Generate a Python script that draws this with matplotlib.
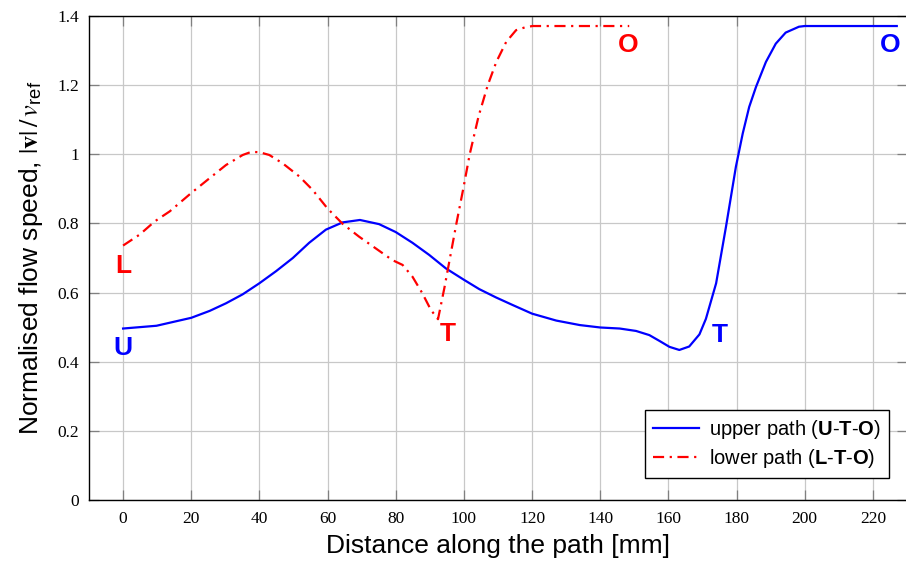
import matplotlib
matplotlib.use('Agg')
import matplotlib.pyplot as plt

# Upper path (U-T-O)
upper_x = [0, 9.8, 20, 25.4, 30.2, 35.1, 40, 44.9, 49.8, 54.6, 59.5, 64.4,
           69.5, 75.1, 80, 84.9, 89.8, 94.7, 100, 104.5, 109.4, 114.3, 120,
           127.1, 134, 140, 145.7, 150.5, 154.4, 157.4, 160.3, 163.2, 166.1,
           169.1, 171, 174, 176.9, 179.8, 181.8, 183.7, 185.7, 188.6, 191.5,
           194.4, 198.3, 200, 227]
upper_y = [0.496, 0.504, 0.527, 0.547, 0.569, 0.595, 0.627, 0.662, 0.700,
           0.744, 0.782, 0.803, 0.810, 0.798, 0.775, 0.744, 0.709, 0.670,
           0.637, 0.610, 0.586, 0.564, 0.539, 0.519, 0.506, 0.499, 0.496,
           0.489, 0.477, 0.460, 0.443, 0.434, 0.444, 0.479, 0.524, 0.627,
           0.791, 0.964, 1.060, 1.137, 1.195, 1.267, 1.320, 1.352, 1.369,
           1.371, 1.371]

# Lower path (L-T-O)
lower_x = [0, 4.9, 9.3, 13.7, 20, 25.4, 30.2, 35.1, 37.6, 40, 42.9, 46.8,
           51.7, 55.6, 60, 64.4, 69.2, 74.1, 79, 82, 84.9, 87.8, 90.3, 92.4,
           94.3, 96, 97.8, 99.8, 101.7, 104.3, 107, 109.5, 112.4, 115.3,
           118.2, 120.2, 148.5]
lower_y = [0.736, 0.768, 0.806, 0.835, 0.888, 0.931, 0.969, 0.998, 1.007,
           1.006, 0.998, 0.974, 0.936, 0.897, 0.843, 0.799, 0.762, 0.728,
           0.694, 0.680, 0.646, 0.598, 0.550, 0.523, 0.615, 0.705, 0.800,
           0.900, 1.000, 1.110, 1.200, 1.267, 1.325, 1.359, 1.368, 1.371,
           1.371]

# point labels: (text, x, baseline y, colour)
point_labels = [('U', 0, 0.418, '#0000ff'), ('T', 175, 0.456, '#0000ff'),
                ('O', 225, 1.296, '#0000ff'), ('L', 0.2, 0.658, '#ff0000'),
                ('T', 95.2, 0.459, '#ff0000'), ('O', 148.1, 1.296, '#ff0000')]

x_ticks = list(range(0, 221, 20))
y_ticks = [0, 0.2, 0.4, 0.6, 0.8, 1, 1.2, 1.4]
y_tick_labels = ['0', '0.2', '0.4', '0.6', '0.8', '1', '1.2', '1.4']

plt.rcParams['font.family'] = ['Liberation Sans', 'DejaVu Sans']
plt.rcParams['mathtext.fontset'] = 'custom'
plt.rcParams['mathtext.rm'] = 'Liberation Sans'
plt.rcParams['mathtext.it'] = 'Liberation Sans:italic'
plt.rcParams['mathtext.bf'] = 'Liberation Sans:bold'

fig = plt.figure(figsize=(9.06, 5.66), dpi=100)
ax = fig.add_axes([89 / 906, 66 / 566, 818 / 906, 484 / 566])

ax.plot(upper_x, upper_y, color='#0000ff', lw=1.6, solid_joinstyle='round',
        label=r'upper path ($\mathbf{U}$-$\mathbf{T}$-$\mathbf{O}$)')
ax.plot(lower_x, lower_y, color='#ff0000', lw=1.6,
        linestyle=(0, (5, 2.5, 1, 2.5)),
        label=r'lower path ($\mathbf{L}$-$\mathbf{T}$-$\mathbf{O}$)')

for txt, x, y, c in point_labels:
    ax.text(x, y, txt, color=c, fontsize=19, fontweight='bold',
            ha='center', va='baseline')

ax.set_xlim(-10, 230)
ax.set_ylim(0, 1.4)
ax.set_xticks(x_ticks)
ax.set_yticks(y_ticks)
ax.set_yticklabels(y_tick_labels)
ax.grid(True, color='#c8c8c8', lw=0.9)
ax.set_axisbelow(True)
ax.tick_params(direction='in', length=7, width=0.9, color='#808080',
               top=True, right=True, labelsize=12.5,
               labelfontfamily='Liberation Serif')
ax.tick_params(axis='x', pad=8)
ax.tick_params(axis='y', pad=7)
for s in ax.spines.values():
    s.set_color('black')
    s.set_linewidth(1.0)

ax.set_xlabel('Distance along the path [mm]', fontsize=19, labelpad=5)
ax.set_ylabel(r'Normalised flow speed, $|\mathbf{v}|\,/\,v_{\mathregular{ref}}$',
              fontsize=19, labelpad=9, math_fontfamily='stix')

leg = ax.legend(loc='lower right', bbox_to_anchor=(0.978, 0.045),
                borderaxespad=0, fontsize=14.5, fancybox=False, framealpha=1,
                edgecolor='black', handlelength=2.3, handletextpad=0.5,
                labelspacing=0.3)
leg.get_frame().set_linewidth(1.0)

fig.savefig('out.png', dpi=100)
